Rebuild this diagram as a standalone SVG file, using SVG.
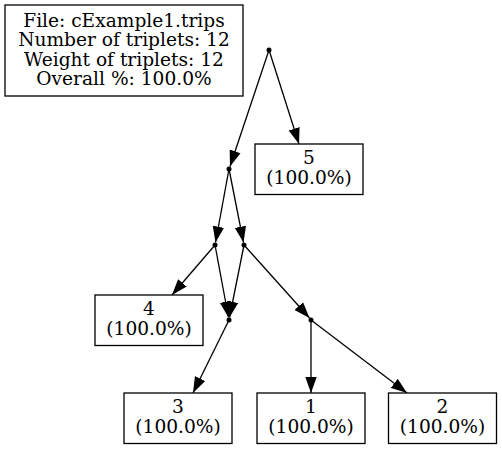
<svg xmlns="http://www.w3.org/2000/svg" width="502" height="450" viewBox="0 0 502 450">
<style>
text{font-family:"DejaVu Serif","Liberation Serif",serif;font-size:18.6px;fill:#000;text-anchor:middle}
rect{fill:#fff;stroke:#000;stroke-width:1.3}
.dot{fill:#000}
#edges line{stroke:#000;stroke-width:1.3;marker-end:url(#ah)}
</style>
<defs>
<marker id="ah" markerUnits="userSpaceOnUse" markerWidth="16" markerHeight="12" viewBox="0 0 14 10" refX="14" refY="5" orient="auto">
<path d="M0,0 L14,5 L0,10 Z" fill="#000"/>
</marker>
</defs>
<rect x="0" y="0" width="502" height="450" style="stroke:none;fill:#fff"/>
<g id="info">
<rect x="5" y="5" width="238" height="91"/>
<text x="124" y="26.5">File: cExample1.trips</text>
<text x="124" y="46">Number of triplets: 12</text>
<text x="124" y="65.5">Weight of triplets: 12</text>
<text x="124" y="85">Overall %: 100.0%</text>
</g>
<g id="edges">
<line x1="269" y1="50" x2="230" y2="166.5"/>
<line x1="269" y1="50" x2="299" y2="144"/>
<line x1="229" y1="169" x2="215.5" y2="242.5"/>
<line x1="229" y1="169" x2="243.5" y2="242.5"/>
<line x1="215" y1="245" x2="172" y2="295"/>
<line x1="215" y1="245" x2="228.5" y2="317.5"/>
<line x1="244" y1="245" x2="229.5" y2="317.5"/>
<line x1="244" y1="245" x2="309.5" y2="318"/>
<line x1="229" y1="320" x2="193" y2="393"/>
<line x1="311" y1="320" x2="311" y2="393"/>
<line x1="311" y1="320" x2="407" y2="393"/>
</g>
<g id="p0"><circle class="dot" cx="269" cy="50" r="2.5"/></g>
<g id="p1"><circle class="dot" cx="229" cy="169" r="2.5"/></g>
<g id="p2"><circle class="dot" cx="215" cy="245" r="2.5"/></g>
<g id="p3"><circle class="dot" cx="244" cy="245" r="2.5"/></g>
<g id="p4"><circle class="dot" cx="229" cy="320" r="2.5"/></g>
<g id="p5"><circle class="dot" cx="311" cy="320" r="2.5"/></g>
<g id="n5">
<rect x="255" y="144" width="108" height="50.5"/>
<text x="309" y="164">5</text>
<text x="309" y="184">(100.0%)</text>
</g>
<g id="n4">
<rect x="95" y="295" width="108" height="50.5"/>
<text x="149" y="315">4</text>
<text x="149" y="335">(100.0%)</text>
</g>
<g id="n3">
<rect x="124" y="393" width="108" height="50.5"/>
<text x="178" y="413">3</text>
<text x="178" y="433">(100.0%)</text>
</g>
<g id="n1">
<rect x="257" y="393" width="108" height="50.5"/>
<text x="311" y="413">1</text>
<text x="311" y="433">(100.0%)</text>
</g>
<g id="n2">
<rect x="388.5" y="393" width="108" height="50.5"/>
<text x="442.5" y="413">2</text>
<text x="442.5" y="433">(100.0%)</text>
</g>
</svg>
